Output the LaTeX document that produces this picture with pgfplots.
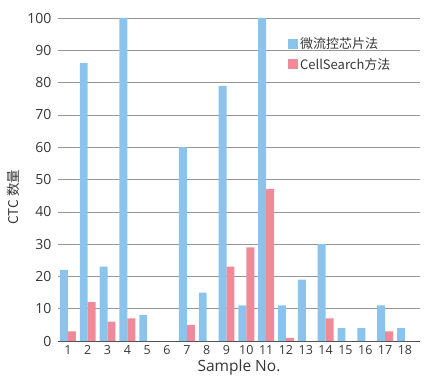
\documentclass[border=0pt]{standalone}
\usepackage{pgfplots}
\pgfplotsset{compat=1.18}
\usepackage{fontspec}
\setmainfont{Open Sans}
\newfontfamily\cjk{Noto Sans CJK SC}
\definecolor{barblue}{RGB}{138,196,236}
\definecolor{barpink}{RGB}{240,138,152}
\definecolor{gridc}{RGB}{150,150,150}
\definecolor{txt}{RGB}{55,55,55}
\begin{document}
\begin{tikzpicture}
\begin{axis}[
  scale only axis,
  width=362pt, height=323pt,
  xmin=0.5, xmax=18.76,
  ymin=0, ymax=100,
  ybar, bar width=0.4,
  xtick={1,...,18},
  ytick={0,10,...,100},
  major tick length=0pt,
  axis x line*=bottom,
  axis y line*=left,
  y axis line style={draw=none},
  ymajorgrids,
  grid style={gridc, line width=0.6pt},
  x axis line style={draw=black!70, line width=0.8pt, -},
  xticklabel style={font=\fontsize{12.5}{13}\selectfont, text=txt, yshift=-1pt},
  yticklabel style={font=\fontsize{14}{15}\selectfont, text=txt, xshift=-3pt},
  /pgf/number format/assume math mode=true,
  xlabel={Sample No.},
  xlabel style={font=\fontsize{15.5}{16}\selectfont, text=txt, yshift=2pt},
  ylabel={\cjk CTC 数量},
  ylabel style={font=\fontsize{13.5}{14}\selectfont, text=txt, at={(ticklabel cs:0.445)}, yshift=1pt},
  legend style={draw=none, fill=none, at={(0.635,0.946)}, anchor=north west,
    inner sep=0pt, font=\cjk\fontsize{13}{14}\selectfont, text=txt,
    /tikz/every even column/.append style={column sep=4pt},
    row sep=4pt},
  legend image code/.code={\fill[#1] (0pt,-5pt) rectangle (10pt,5pt);},
  legend cell align=left,
]
\addplot[draw=none, fill=barblue, bar shift=-0.2] coordinates {
(1,22) (2,86) (3,23) (4,100) (5,8) (6,0) (7,60) (8,15) (9,79) (10,11)
(11,100) (12,11) (13,19) (14,30) (15,4) (16,4) (17,11) (18,4)};
\addlegendentry{微流控芯片法}
\addplot[draw=none, fill=barpink, bar shift=0.2] coordinates {
(1,3) (2,12) (3,6) (4,7) (5,0) (6,0) (7,5) (8,0) (9,23) (10,29)
(11,47) (12,1) (13,0) (14,7) (15,0) (16,0) (17,3) (18,0)};
\addlegendentry{CellSearch方法}
\end{axis}
\path (current axis.south west) ++(-58pt,-47pt) coordinate (bbA);
\path (current axis.north east) ++(10pt,18pt) coordinate (bbB);
\useasboundingbox (bbA) rectangle (bbB);
\end{tikzpicture}
\end{document}
